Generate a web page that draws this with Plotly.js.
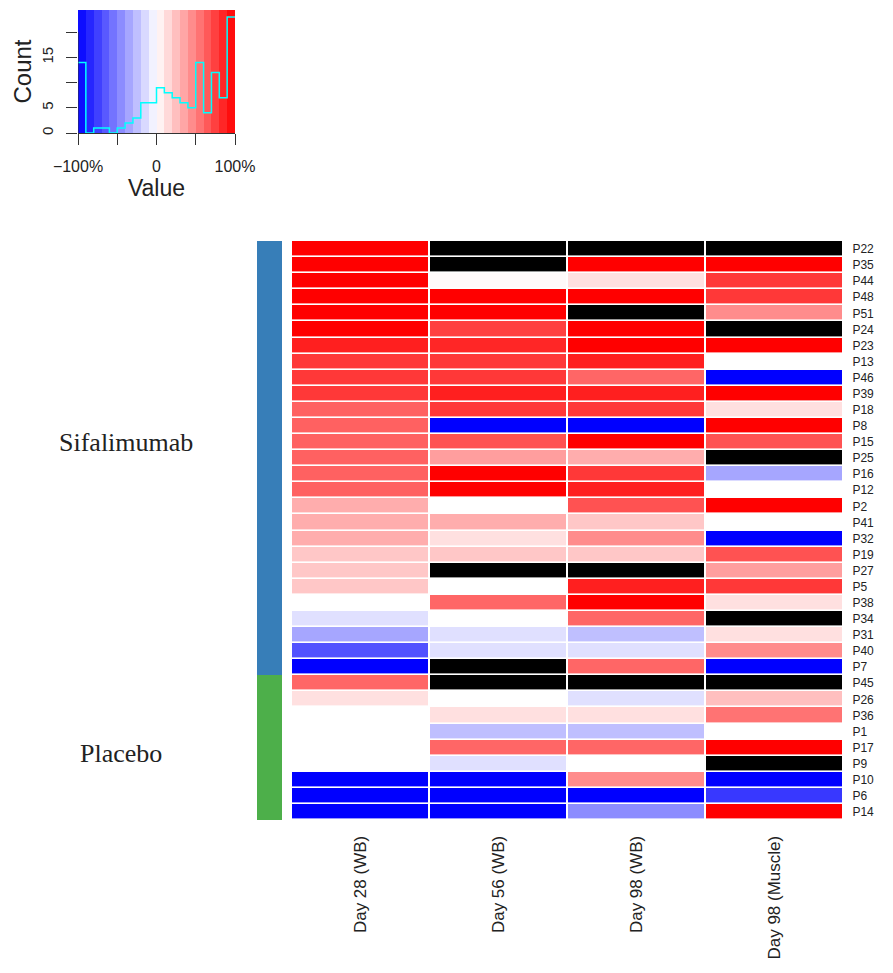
<!DOCTYPE html>
<html><head><meta charset="utf-8">
<script src="https://cdn.plot.ly/plotly-3.0.1.min.js"></script>
<style>html,body{margin:0;padding:0;background:#fff}#chart{width:893px;height:973px}</style>
</head><body><div id="chart"></div>
<script>
// Patients (top to bottom)
const patients = ["P22","P35","P44","P48","P51","P24","P23","P13","P46","P39","P18","P8","P15","P25","P16","P12","P2","P41","P32","P19","P27","P5","P38","P34","P31","P40","P7","P45","P26","P36","P1","P17","P9","P10","P6","P14"];
const groups = ["S","S","S","S","S","S","S","S","S","S","S","S","S","S","S","S","S","S","S","S","S","S","S","S","S","S","S","P","P","P","P","P","P","P","P","P"];
const timepoints = ["Day 28 (WB)","Day 56 (WB)","Day 98 (WB)","Day 98 (Muscle)"];
// percent change values (null = missing, drawn black)
const day28 = [100,100,100,100,100,100,88,78,78,78,62,62,62,62,62,62,32,32,32,22,22,22,0,-12,-35,-68,-100,60,12,0,0,0,0,-100,-100,-100];
const day56 = [null,null,2,100,100,75,85,78,78,88,78,-100,68,38,100,100,0,32,12,22,null,0,60,0,-12,-12,null,null,0,12,-25,60,-12,-100,-100,-100];
const day98wb = [null,100,12,100,null,100,100,88,60,88,78,-100,100,32,78,88,68,22,45,22,null,88,100,60,-25,-12,60,null,-12,12,-25,60,0,45,-100,-45];
const day98muscle = [null,100,78,78,45,null,100,0,-100,100,12,100,68,null,-35,0,100,0,-100,68,38,78,12,null,12,45,-100,null,25,55,0,100,null,-100,-78,100];

// colour key histogram
const histEdges = [-100,-90,-80,-70,-60,-50,-40,-30,-20,-10,0,10,20,30,40,50,60,70,80,90,100];
const histCounts = [14,0,1,1,0,1,2,3,6,6,9,8,7,6,5,14,4,12,7,23];
const keyBins = [-95,-85,-75,-65,-55,-45,-35,-25,-15,-5,5,15,25,35,45,55,65,75,85,95];
const countTicks = [0,5,10,15,20];
const countLabels = ['0','5','','15',''];

const cols = [day28, day56, day98wb, day98muscle];
const zMain = patients.map((p,i)=>cols.map(c=>c[i]));
const zNA = patients.map((p,i)=>cols.map(c=>c[i]===null?1:null));
const zGroup = groups.map(g=>[g==="S"?0:1]);

const cs = [[0,'rgb(0,0,255)'],[0.5,'rgb(255,255,255)'],[1,'rgb(255,0,0)']];
const font = "Arial, 'Liberation Sans', sans-serif";
const serif = "'Liberation Serif', 'Times New Roman', serif";

const traces = [
  {type:'heatmap', x:timepoints, y:patients, z:zNA, colorscale:[[0,'#000'],[1,'#000']], showscale:false, xgap:2, ygap:1.6, hoverinfo:'skip'},
  {type:'heatmap', x:timepoints, y:patients, z:zMain, colorscale:cs, zmin:-100, zmax:100, showscale:false, xgap:2, ygap:1.6},
  {type:'heatmap', x:['group'], y:patients, z:zGroup, xaxis:'x2', yaxis:'y', colorscale:[[0,'rgb(55,126,184)'],[0.5,'rgb(55,126,184)'],[0.5,'rgb(77,175,74)'],[1,'rgb(77,175,74)']], zmin:0, zmax:1, showscale:false},
  {type:'heatmap', x:keyBins, y:[0,24.4], z:[keyBins,keyBins], xaxis:'x3', yaxis:'y3', colorscale:cs, zmin:-100, zmax:100, showscale:false, hoverinfo:'skip'},
  {type:'scatter', mode:'lines', x:histEdges, y:histCounts.concat([histCounts[histCounts.length-1]]), xaxis:'x3', yaxis:'y3', line:{shape:'hv', color:'cyan', width:1.5}, showlegend:false},
  {type:'scatter', mode:'lines', x:[-100,-100], y:[countTicks[0], countTicks[countTicks.length-1]], xaxis:'x3', yaxis:'y3', line:{color:'#333', width:1}, cliponaxis:false, showlegend:false}
];

const layout = {
  width:893, height:973, margin:{l:0,r:0,t:0,b:0},
  paper_bgcolor:'#fff', plot_bgcolor:'#fff', showlegend:false,
  font:{family:font, color:'#222'},
  xaxis:{domain:[291/893, 843/893], type:'category', tickangle:-90, ticks:'outside', ticklen:8, tickcolor:'rgba(0,0,0,0)', tickfont:{size:17, family:font, color:'#222'}, showgrid:false, zeroline:false, showline:false},
  yaxis:{domain:[1-820/973, 1-241/973], type:'category', autorange:'reversed', side:'right', ticks:'outside', ticklen:6, tickcolor:'rgba(0,0,0,0)', tickfont:{size:12, family:font, color:'#222'}, showgrid:false, zeroline:false, showline:false},
  xaxis2:{domain:[257/893, 282/893], anchor:'y', showticklabels:false, ticks:'', showgrid:false, zeroline:false},
  xaxis3:{domain:[78/893, 235/893], anchor:'y3', range:[-100,100], tickvals:[-100,-50,0,50,100], ticktext:['\u2212100%','','0','','100%'], ticks:'outside', ticklen:11, tickcolor:'#333', showline:true, linecolor:'#333', ticklabelstandoff:8, tickfont:{size:16, family:font, color:'#222'}, showgrid:false, zeroline:false, title:{text:'Value', font:{size:23, family:font, color:'#222'}, standoff:0}},
  yaxis3:{domain:[1-133/973, 1-10/973], anchor:'x3', range:[0,24.4], tickvals:countTicks, ticktext:countLabels, tickangle:-90, ticks:'outside', ticklen:11, tickcolor:'#333', showline:false, ticklabelstandoff:7, tickfont:{size:15, family:font, color:'#222'}, showgrid:false, zeroline:false, title:{text:'Count', font:{size:24, family:font, color:'#222'}, standoff:0}},
  annotations:[
    {text:'Sifalimumab', xref:'paper', yref:'paper', x:126/893, y:1-442/973, xanchor:'center', yanchor:'middle', showarrow:false, font:{family:serif, size:26, color:'#222'}},
    {text:'Placebo', xref:'paper', yref:'paper', x:121/893, y:1-753/973, xanchor:'center', yanchor:'middle', showarrow:false, font:{family:serif, size:26, color:'#222'}}
  ]
};
Plotly.newPlot('chart', traces, layout, {displayModeBar:false, staticPlot:true});
</script></body></html>
